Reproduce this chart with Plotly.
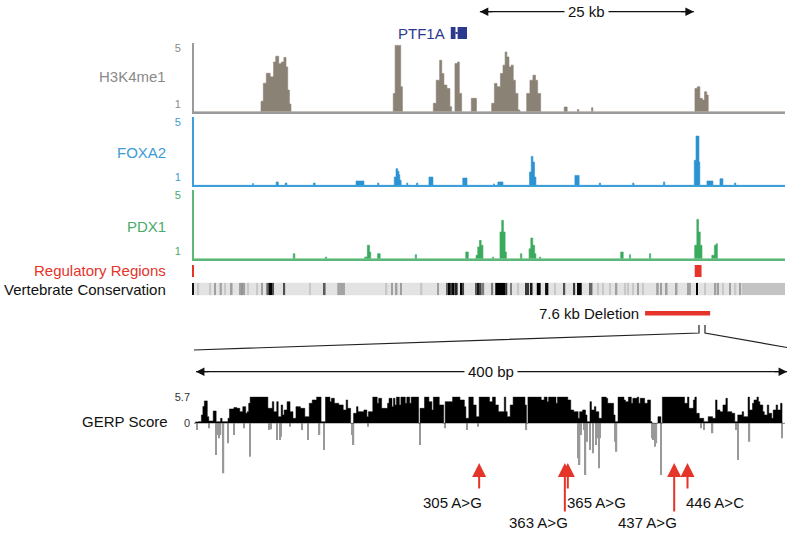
import plotly.graph_objects as go

W, H = 794, 534
FONT = "Arial, Liberation Sans, Helvetica, sans-serif"

# ---------------- data ----------------
# genome tracks: (start_kb, signal) steps; signal holds until the next start
h3k4me1_steps = [
    (0, 0.45), (7.83, 1.2), (8.1, 2.5), (8.45, 3.21), (8.9, 2.95), (9.3, 4.02), (9.55, 4.43),
    (9.9, 3.9), (10.2, 4.02), (10.5, 4.34), (10.75, 3.66), (10.95, 2.0), (11.15, 1.0), (11.33, 0.45),
    (23.28, 1.76), (23.5, 5.21), (24.15, 2.24), (24.35, 0.45),
    (27.96, 1.05), (28.3, 2.71), (28.7, 4.14), (28.95, 3.19), (29.2, 2.36), (29.55, 2.12),
    (29.9, 0.81), (30.1, 0.45), (30.49, 3.91), (30.8, 4.02), (31.0, 1.76), (31.27, 0.45),
    (32.4, 1.41), (33.0, 0.45),
    (34.78, 1.05), (35.1, 2.48), (35.4, 2.24), (35.8, 3.19), (36.1, 3.79), (36.35, 4.74),
    (36.55, 4.38), (36.8, 3.66), (37.05, 3.79), (37.3, 2.71), (37.55, 1.76), (37.85, 0.57), (38.08, 0.45),
    (38.87, 1.76), (39.25, 2.71), (39.6, 3.07), (39.9, 2.71), (40.15, 1.76), (40.5, 0.45),
    (43.25, 0.79), (43.6, 0.45), (44.8, 0.61), (44.95, 0.45), (46.45, 0.74), (46.6, 0.45),
    (58.53, 2.12), (58.8, 2.24), (59.1, 1.41), (59.4, 1.29), (59.65, 1.88), (59.9, 1.64),
    (60.08, 0.45), (69.05, 0.45),
]
foxa2_steps = [
    (0, 0.45), (6.85, 0.58), (6.95, 0.45), (9.6, 0.69), (9.85, 0.45), (10.65, 0.61), (10.85, 0.45),
    (13.95, 0.61), (14.15, 0.45), (18.93, 0.76), (19.86, 0.45), (21.45, 0.61), (21.6, 0.45),
    (23.4, 1.04), (23.6, 1.64), (23.8, 1.45), (23.95, 1.2), (24.05, 0.81), (24.2, 0.45),
    (24.85, 0.61), (24.98, 0.45), (26.0, 0.61), (26.15, 0.45), (27.45, 1.04), (27.92, 0.45),
    (31.4, 0.97), (31.9, 0.45), (35.0, 0.55), (35.1, 0.45), (35.5, 0.69), (36.1, 0.45),
    (39.2, 1.40), (39.4, 2.52), (39.6, 2.11), (39.78, 1.04), (39.95, 0.45),
    (44.5, 1.16), (45.0, 0.45), (47.35, 0.61), (47.5, 0.45), (51.25, 0.61), (51.4, 0.45),
    (54.85, 0.69), (55.0, 0.45), (58.45, 2.24), (58.65, 3.97), (59.0, 2.11), (59.1, 0.45),
    (59.93, 0.76), (60.63, 0.45), (61.45, 0.92), (61.8, 0.45), (63.15, 0.61), (63.3, 0.45), (69.05, 0.45),
]
pdx1_steps = [
    (0, 0.45), (11.6, 0.81), (11.78, 0.45), (15.35, 0.57), (15.5, 0.45),
    (19.95, 0.57), (20.25, 1.41), (20.5, 0.93), (20.65, 0.45), (21.45, 0.81), (21.75, 0.45),
    (25.85, 0.74), (26.0, 0.45), (31.75, 0.93), (32.05, 0.45),
    (32.95, 0.69), (33.15, 1.29), (33.35, 1.76), (33.55, 1.41), (33.76, 0.45),
    (34.88, 0.57), (35.0, 0.45), (35.75, 2.36), (35.95, 3.19), (36.15, 2.36), (36.35, 0.93), (36.5, 0.45),
    (38.15, 0.81), (38.3, 0.45), (39.15, 1.16), (39.35, 1.93), (39.58, 1.41), (39.8, 0.81), (39.95, 0.45),
    (40.38, 0.57), (40.5, 0.45), (49.85, 0.93), (50.15, 0.45), (50.88, 0.74), (51.0, 0.45),
    (53.22, 0.81), (53.35, 0.45), (58.5, 1.41), (58.75, 3.26), (58.95, 2.36), (59.15, 1.41), (59.35, 0.45),
    (60.5, 0.69), (60.8, 1.41), (61.0, 1.52), (61.15, 0.45), (69.05, 0.45),
]
track_names = ["H3K4me1", "FOXA2", "PDX1"]
track_ticks = [1, 5]

regulatory_regions = [(58.5, 59.3)]  # kb

# vertebrate conservation bands: (start_kb, end_kb, score 0..1)
conservation_bands = [
    (0.4, 0.6, 0.12), (1.8, 2.0, 0.12), (2.35, 2.55, 0.3), (3.0, 3.25, 0.3), (3.55, 3.7, 0.12),
    (4.3, 4.5, 0.3), (5.27, 5.47, 0.3), (5.55, 5.73, 0.35), (5.8, 5.97, 0.3), (6.27, 6.43, 0.12),
    (7.25, 7.4, 0.12), (7.83, 8.0, 0.3), (8.45, 8.7, 0.55), (8.7, 9.2, 1.0), (9.2, 9.35, 0.65),
    (10.45, 10.65, 0.65), (13.47, 13.63, 0.12), (15.17, 15.37, 0.6), (16.74, 17.64, 0.28),
    (22.42, 22.58, 0.12), (23.02, 23.18, 0.3), (23.6, 23.76, 0.3), (24.07, 24.23, 0.3),
    (26.52, 26.68, 0.12), (28.46, 28.62, 0.3), (29.5, 29.7, 0.55), (29.7, 29.9, 1.0),
    (29.9, 30.15, 0.75), (30.15, 30.4, 1.0), (30.4, 30.6, 0.6), (30.6, 30.8, 0.85),
    (31.17, 31.37, 1.0), (31.37, 31.55, 0.7), (32.84, 33.04, 0.6), (33.1, 33.3, 0.9),
    (33.4, 33.6, 0.7), (33.7, 33.9, 0.45), (34.75, 34.95, 0.45), (35.2, 36.35, 1.0),
    (36.35, 36.6, 0.75), (36.93, 37.13, 0.45), (37.82, 37.98, 0.12), (38.7, 38.9, 0.75),
    (38.97, 39.15, 0.75), (39.35, 39.55, 0.9), (40.05, 40.5, 1.0), (41.02, 41.4, 0.95),
    (42.1, 42.25, 0.12), (43.17, 43.37, 0.65), (44.33, 44.53, 0.75), (44.75, 45.3, 1.0),
    (46.15, 46.55, 0.55), (47.15, 47.3, 0.12), (47.75, 47.9, 0.12), (48.52, 48.68, 0.12),
    (49.3, 49.46, 0.3), (50.27, 50.43, 0.12), (50.66, 50.82, 0.12), (51.24, 51.4, 0.12),
    (51.82, 51.98, 0.3), (52.41, 52.57, 0.12), (54.0, 54.3, 0.3), (54.45, 54.65, 0.3),
    (55.12, 55.32, 0.3), (56.3, 56.48, 0.3), (57.6, 58.05, 0.3), (58.68, 58.84, 1.0),
    (59.62, 59.78, 0.12), (60.87, 61.03, 0.3), (61.17, 61.33, 0.3), (61.76, 61.92, 0.12),
    (62.54, 62.7, 0.3), (63.2, 63.36, 0.12), (63.71, 63.87, 0.3), (63.98, 69.05, 0.14),
]
conservation_extent = (0.0, 63.98)

gene_name = "PTF1A"
gene_exons = [(30.0, 30.55), (30.8, 31.9)]  # kb
scale_bar_start_kb = 33.4
scale_bar_kb = 25
deletion_kb = (52.7, 60.3)
deletion_label = "7.6 kb Deletion"

# GERP per-base scores in the 400 bp window (relative bp)
window_start_bp = 112
window_bp = 400
gerp_positive = [
    (0, 0.0), (1, 0.3), (3, 0.36), (5, 1.79), (6, 3.6), (7, 4.8), (9, 1.43), (10, 0.5), (13, 2.64), (15, 0.36),
    (18, 1.07), (19, 0.36), (23, 1.07), (24, 3.07), (27, 3.36), (29, 3.21), (31, 2.5), (33, 3.57),
    (35, 2.14), (36, 2.5), (37, 4.29), (38, 5.7), (50, 3.21), (53, 4.64), (54, 2.5), (56, 4.64),
    (57, 1.43), (59, 3.93), (60, 1.79), (61, 2.86), (63, 4.64), (65, 2.5), (67, 1.07), (69, 3.57),
    (72, 3.21), (75, 1.43), (78, 4.29), (80, 5.0), (83, 5.7), (86, 0.36), (89, 5.7), (92, 4.64),
    (93, 5.36), (95, 4.29), (98, 3.93), (101, 2.86), (103, 5.0), (104, 3.21), (106, 0.0), (108, 2.14),
    (110, 3.57), (111, 2.5), (115, 2.86), (117, 1.43), (118, 2.5), (121, 5.7), (124, 4.29), (125, 5.36),
    (127, 3.21), (131, 4.29), (132, 5.36), (134, 3.57), (135, 5.36), (136, 3.93), (137, 5.7), (139, 3.93),
    (140, 5.7), (143, 4.29), (144, 5.7), (146, 4.29), (147, 5.7), (152, 0.0), (153, 3.21), (156, 5.7),
    (159, 4.64), (161, 2.86), (162, 5.7), (166, 3.93), (169, 0.0), (170, 4.64), (175, 5.7), (180, 5.0),
    (183, 3.57), (184, 1.07), (186, 5.7), (189, 3.93), (191, 1.43), (193, 5.7), (200, 4.64), (202, 5.7),
    (204, 3.93), (206, 2.5), (210, 5.7), (211, 2.5), (212, 1.43), (214, 3.93), (216, 5.7), (224, 3.93),
    (225, 0.0), (226, 5.7), (235, 5.0), (237, 5.7), (239, 4.64), (240, 5.7), (245, 4.29), (246, 5.7),
    (253, 5.0), (255, 2.86), (257, 2.5), (260, 1.07), (261, 2.5), (263, 2.86), (265, 1.79), (266, 0.36),
    (268, 4.64), (269, 2.86), (271, 3.57), (272, 2.5), (274, 1.07), (276, 5.7), (279, 5.36), (280, 4.29),
    (284, 1.79), (285, 0.36), (287, 5.7), (291, 5.0), (292, 4.64), (294, 5.7), (296, 4.29), (297, 5.36),
    (300, 5.7), (301, 4.29), (302, 5.36), (305, 4.29), (307, 5.0), (309, 0.36), (310, 0.0), (314, 1.43),
    (316, 0.0), (317, 5.7), (332, 4.29), (334, 5.7), (335, 3.21), (338, 5.0), (339, 5.7), (340, 2.14),
    (342, 1.07), (345, 0.36), (348, 1.43), (351, 1.07), (353, 5.0), (354, 2.86), (356, 2.5), (358, 3.93),
    (360, 5.36), (361, 2.5), (364, 2.14), (366, 0.36), (368, 1.79), (371, 2.5), (372, 1.43), (375, 5.7),
    (376, 2.86), (378, 4.29), (379, 5.0), (381, 5.7), (382, 4.64), (383, 3.93), (385, 2.5), (386, 1.79),
    (388, 3.93), (389, 2.14), (391, 1.07), (392, 2.86), (394, 3.93), (395, 2.86), (397, 4.29), (398, 0.0),
    (400, 0.0),
]
gerp_negative = [
    (2, -1.43), (10, -1.07), (15, -6.79), (16, -2.5), (17, -3.21), (18, -2.5), (20, -10.7), (23, -4.29),
    (27, -2.5), (34, -1.07), (38, -7.14), (51, -1.43), (52, -1.29), (56, -3.57), (58, -3.57), (59, -2.86),
    (65, -0.71), (73, -1.43), (77, -3.57), (85, -2.5), (88, -5.71), (107, -2.5), (108, -4.64), (118, -0.71),
    (153, -4.64), (170, -1.07), (185, -1.43), (192, -0.71), (225, -1.43), (260, -7.5), (261, -8.93),
    (262, -2.5), (264, -1.43), (265, -11.07), (266, -3.93), (268, -5.71), (270, -6.43), (272, -4.64),
    (273, -3.21), (274, -9.64), (275, -3.21), (285, -3.93), (286, -6.07), (310, -3.21), (311, -3.57),
    (312, -5.0), (313, -4.29), (316, -11.07), (343, -1.07), (345, -1.43), (351, -2.14), (367, -1.43),
    (368, -7.86), (376, -3.93), (398, -3.21),
]
gerp_ticks = [0, 5.7]

mutation_positions = [305, 363, 365, 437, 446]
mutation_labels = ["305 A>G", "363 A>G", "365 A>G", "437 A>G", "446 A>C"]

# ---------------- styling helpers ----------------
def px(x):
    return x / W

def py(y):
    return 1 - y / H

X0, X1 = 194, 785
XDOM = [px(X0), px(X1)]
GENOME_RANGE = [0, 69.05]
TS = 15  # text size

track_colors = {"H3K4me1": ("#8b8276", "#9a9a9a", "#8a8a8a"),
                "FOXA2": ("#2b93d1", "#3d9fd8", "#3d9bd6"),
                "PDX1": ("#3aaa5c", "#5cb77a", "#4aaa6a")}
track_domains = {"H3K4me1": (111.7, 43.3), "FOXA2": (185.3, 116.7), "PDX1": (258.7, 190.0)}
label_y = {"H3K4me1": 76.7, "FOXA2": 152.7, "PDX1": 226.7}
RED = "#e5342a"

fig = go.Figure()
layout = dict(width=W, height=H, margin=dict(l=0, r=0, t=0, b=0, autoexpand=False),
              paper_bgcolor="white", plot_bgcolor="white", showlegend=False,
              font=dict(family=FONT, size=TS, color="#111"))
annotations = []
shapes = []


def text_ann(x, y, text, xref="paper", xanchor="center", xshift=0, size=TS, color="#111", **kw):
    d = dict(x=x, y=y, xref=xref, yref="paper", text=text, xanchor=xanchor, yanchor="middle",
             xshift=xshift, showarrow=False, font=dict(size=size, color=color))
    d.update(kw)
    return d


for i, (name, steps) in enumerate(zip(track_names, [h3k4me1_steps, foxa2_steps, pdx1_steps])):
    n = i + 1
    xa = "x" if n == 1 else f"x{n}"
    ya = "y" if n == 1 else f"y{n}"
    fill, line_c, text_c = track_colors[name]
    xs = [s[0] for s in steps]
    ys = [s[1] for s in steps]
    fig.add_trace(go.Scatter(x=xs, y=ys, mode="lines", line=dict(shape="hv", width=0.6, color=fill),
                             fill="tozeroy", fillcolor=fill, xaxis=xa, yaxis=ya, hoverinfo="skip"))
    bot, top = track_domains[name]
    xkey = "xaxis" if n == 1 else f"xaxis{n}"
    ykey = "yaxis" if n == 1 else f"yaxis{n}"
    layout[xkey] = dict(domain=XDOM, range=GENOME_RANGE, anchor=ya, showline=True, linecolor=line_c,
                        linewidth=2, showticklabels=False, ticks="", showgrid=False, zeroline=False,
                        automargin=False, **({} if n == 1 else {"matches": "x"}))
    layout[ykey] = dict(domain=[py(bot), py(top)], range=[0.45, 5.36], anchor=xa, showline=True,
                        linecolor=line_c, linewidth=2, tickvals=track_ticks, ticks="",
                        tickfont=dict(size=11, color=text_c), ticklabelstandoff=9,
                        showgrid=False, zeroline=False, automargin=False)
    annotations.append(text_ann(px(168), py(label_y[name]), name, xanchor="right", color=text_c))

# regulatory regions
fig.add_trace(go.Bar(x=[(a + b) / 2 for a, b in regulatory_regions], y=[1] * len(regulatory_regions),
                     width=[b - a for a, b in regulatory_regions], base=0, marker=dict(color=RED, line=dict(width=0)),
                     xaxis="x4", yaxis="y4", hoverinfo="skip"))
layout["xaxis4"] = dict(domain=XDOM, range=GENOME_RANGE, matches="x", anchor="y4", visible=False)
layout["yaxis4"] = dict(domain=[py(277), py(265)], range=[0, 1], anchor="x4", showline=True,
                        linecolor=RED, linewidth=2, showticklabels=False, ticks="", showgrid=False,
                        zeroline=False, automargin=False)
annotations.append(text_ann(px(168), py(270.5), "Regulatory Regions", xanchor="right", color=RED))

# conservation
shapes.append(dict(type="rect", xref="x", yref="paper", x0=conservation_extent[0], x1=conservation_extent[1],
                   y0=py(295.3), y1=py(282.7), fillcolor="#e3e3e3", line=dict(width=0), layer="below"))
fig.add_trace(go.Bar(x=[(a + b) / 2 for a, b, s in conservation_bands], y=[1] * len(conservation_bands),
                     width=[b - a for a, b, s in conservation_bands], base=0,
                     marker=dict(color=[s for a, b, s in conservation_bands],
                                 colorscale=[[0, "#e3e3e3"], [1, "#000000"]], cmin=0, cmax=1,
                                 line=dict(width=0), showscale=False),
                     xaxis="x5", yaxis="y5", hoverinfo="skip"))
layout["xaxis5"] = dict(domain=XDOM, range=GENOME_RANGE, matches="x", anchor="y5", visible=False)
layout["yaxis5"] = dict(domain=[py(295.3), py(282.7)], range=[0, 1], anchor="x5", showline=True,
                        linecolor="#111", linewidth=2, showticklabels=False, ticks="", showgrid=False,
                        zeroline=False, automargin=False)
annotations.append(text_ann(px(168), py(289), "Vertebrate Conservation", xanchor="right"))

# gene
NAVY = "#2b3a8c"
for a, b in gene_exons:
    shapes.append(dict(type="rect", xref="x", yref="paper", x0=a, x1=b, y0=py(39), y1=py(27),
                       fillcolor=NAVY, line=dict(width=0)))
shapes.append(dict(type="line", xref="x", yref="paper", x0=gene_exons[0][1], x1=gene_exons[1][0],
                   y0=py(33), y1=py(33), line=dict(color=NAVY, width=2)))
annotations.append(text_ann(gene_exons[0][0], py(33), gene_name, xref="x", xanchor="right", xshift=-4,
                            color=NAVY))

# 25 kb scale bar
sb0, sb1 = scale_bar_start_kb, scale_bar_start_kb + scale_bar_kb
yb = py(11.7)
shapes.append(dict(type="line", xref="x", yref="paper", x0=sb0, x1=sb1, y0=yb, y1=yb,
                   line=dict(color="#111", width=1.3)))
for xh, ax in [(sb0, 14), (sb1, -14)]:
    annotations.append(dict(x=xh, y=yb, xref="x", yref="paper", ax=ax, ay=0, text="", showarrow=True,
                            arrowhead=2, arrowsize=1.3, arrowwidth=1.3, arrowcolor="#111"))
annotations.append(text_ann((sb0 + sb1) / 2, yb, f"{scale_bar_kb} kb", xref="x", bgcolor="white", borderpad=3))

# deletion
shapes.append(dict(type="rect", xref="x", yref="paper", x0=deletion_kb[0], x1=deletion_kb[1],
                   y0=py(315.5), y1=py(311), fillcolor=RED, line=dict(width=0)))
annotations.append(text_ann(deletion_kb[0], py(313), deletion_label, xref="x", xanchor="right", xshift=-4))

# zoom bracket lines
shapes.append(dict(type="path", xref="paper", yref="paper",
                   path=f"M {px(699)} {py(325)} L {px(699)} {py(333)} L {px(194)} {py(350)}",
                   line=dict(color="#222", width=1.2)))
shapes.append(dict(type="path", xref="paper", yref="paper",
                   path=f"M {px(705)} {py(325)} L {px(705)} {py(333)} L {px(787)} {py(347.5)}",
                   line=dict(color="#222", width=1.2)))

# 400 bp scale
y4 = py(371.7)
shapes.append(dict(type="line", xref="paper", yref="paper", x0=px(196), x1=px(787), y0=y4, y1=y4,
                   line=dict(color="#111", width=1.3)))
for xh, ax in [(px(196), 14), (px(787), -14)]:
    annotations.append(dict(x=xh, y=y4, xref="paper", yref="paper", ax=ax, ay=0, text="", showarrow=True,
                            arrowhead=2, arrowsize=1.3, arrowwidth=1.3, arrowcolor="#111"))
annotations.append(text_ann(px(491), y4, f"{window_bp} bp", bgcolor="white", borderpad=3))

# GERP
fig.add_trace(go.Scatter(x=[p for p, v in gerp_positive], y=[v for p, v in gerp_positive], mode="lines",
                         line=dict(shape="hv", width=0.5, color="#000"), fill="tozeroy", fillcolor="#000",
                         xaxis="x6", yaxis="y6", hoverinfo="skip"))
fig.add_trace(go.Bar(x=[p for p, v in gerp_negative], y=[v for p, v in gerp_negative], width=0.9,
                     marker=dict(color="#999999", line=dict(width=0)), xaxis="x6", yaxis="y6", hoverinfo="skip"))
layout["xaxis6"] = dict(domain=XDOM, range=[0, window_bp], anchor="y6", visible=False)
layout["yaxis6"] = dict(domain=[py(477), py(396.7)], range=[-11.5, 5.7], anchor="x6", tickvals=gerp_ticks,
                        ticktext=["0", "5.7"], ticks="", tickfont=dict(size=11, color="#333"),
                        ticklabelstandoff=3, showline=False, showgrid=False, zeroline=False, automargin=False)
annotations.append(text_ann(px(170), py(421), "GERP Score", xanchor="right"))

# mutation arrows
mut_style = {305: ("right", False), 363: ("right", True), 365: ("left", False),
             437: ("right", True), 446: ("left", False)}
for pos, lab in zip(mutation_positions, mutation_labels):
    anchor, long_arrow = mut_style[pos]
    xr = pos - window_start_bp
    annotations.append(dict(x=xr, y=py(463), xref="x6", yref="paper", ax=0, ay=50 if long_arrow else 27,
                            text="", showarrow=True, arrowhead=2, arrowsize=1.4, arrowwidth=2,
                            arrowcolor=RED))
    annotations.append(text_ann(xr, py(522 if long_arrow else 502), lab, xref="x6", xanchor=anchor,
                                xshift=5 if anchor == "right" else -3))

layout["annotations"] = annotations
layout["shapes"] = shapes
fig.update_layout(**layout)
fig.write_html("out.html", config={"displayModeBar": False},
               post_script="document.body.style.margin='0';document.body.style.overflow='hidden';")
